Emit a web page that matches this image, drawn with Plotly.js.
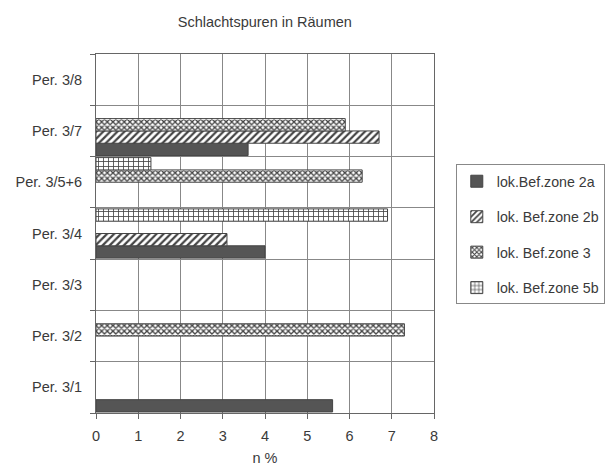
<!DOCTYPE html>
<html><head><meta charset="utf-8">
<script src="https://cdn.plot.ly/plotly-3.0.1.min.js"></script>
<style>body{margin:0;background:#fff}#c{width:606px;height:466px}</style>
</head><body><div id="c"></div>
<script>
const categories = ['Per. 3/1','Per. 3/2','Per. 3/3','Per. 3/4','Per. 3/5+6','Per. 3/7','Per. 3/8'];
const seriesNames = ['lok.Bef.zone 2a','lok. Bef.zone 2b','lok. Bef.zone 3','lok. Bef.zone 5b'];
const zone2a = [5.6, null, null, 4.0, null, 3.6, null];
const zone2b = [null, null, null, 3.1, null, 6.7, null];
const zone3  = [null, 7.3, null, null, 6.3, 5.9, null];
const zone5b = [null, null, null, 6.9, 1.3, null, null];
const xTicks = [0,1,2,3,4,5,6,7,8];

const values = [zone2a, zone2b, zone3, zone5b];
const patterns = [
  null,
  {shape:'/', fgcolor:'#444', bgcolor:'#fff', size:5, solidity:0.45},
  {shape:'x', fgcolor:'#444', bgcolor:'#fff', size:4, solidity:0.55},
  {shape:'+', fgcolor:'#444', bgcolor:'#fff', size:5, solidity:0.3}
];
const traces = values.map((v,i)=>{
  const m = {color: i===0?'#555':'#fff', line:{color:'#444', width:1}};
  if (patterns[i]) m.pattern = patterns[i];
  return {type:'bar', orientation:'h', name:seriesNames[i], legendgroup:'g'+i, y:categories, x:v,
    marker:m, hoverinfo:'x+name'};
});
const layout = {
  width:606, height:466,
  margin:{l:96, r:172, t:54, b:53},
  paper_bgcolor:'#fff', plot_bgcolor:'#fff',
  font:{family:'Liberation Sans, Arial, sans-serif', size:14.5, color:'#3a3a3a'},
  title:{text:'Schlachtspuren in Räumen', x:0.437, xanchor:'center', y:0.953, yanchor:'middle', font:{size:14.5, color:'#3a3a3a'}},
  barmode:'group', bargap:0.04, bargroupgap:0.0,
  xaxis:{range:[0,8], tickvals:xTicks, ticks:'outside', ticklen:5, tickcolor:'#666',
    showgrid:true, gridcolor:'#888', gridwidth:1, showline:true, linecolor:'#666', mirror:true,
    zeroline:false, ticklabelstandoff:5, title:{text:'n %', standoff:10, font:{size:14.5}}, tickfont:{size:14.5}},
  yaxis:{type:'category', categoryorder:'array', categoryarray:categories, tickson:'boundaries',
    ticks:'outside', ticklen:5, tickcolor:'#666', showgrid:true, gridcolor:'#888', gridwidth:1,
    showline:true, linecolor:'#666', mirror:true, ticklabelstandoff:10, tickfont:{size:14.5}},
  legend:{xref:'container', yref:'container', x:0.998, y:0.647, xanchor:'right', yanchor:'top',
    bordercolor:'#888', borderwidth:1, font:{size:14.2}, tracegroupgap:14, traceorder:'grouped'},
  showlegend:true
};
Plotly.newPlot('c', traces, layout, {displayModeBar:false, staticPlot:true});
</script></body></html>
